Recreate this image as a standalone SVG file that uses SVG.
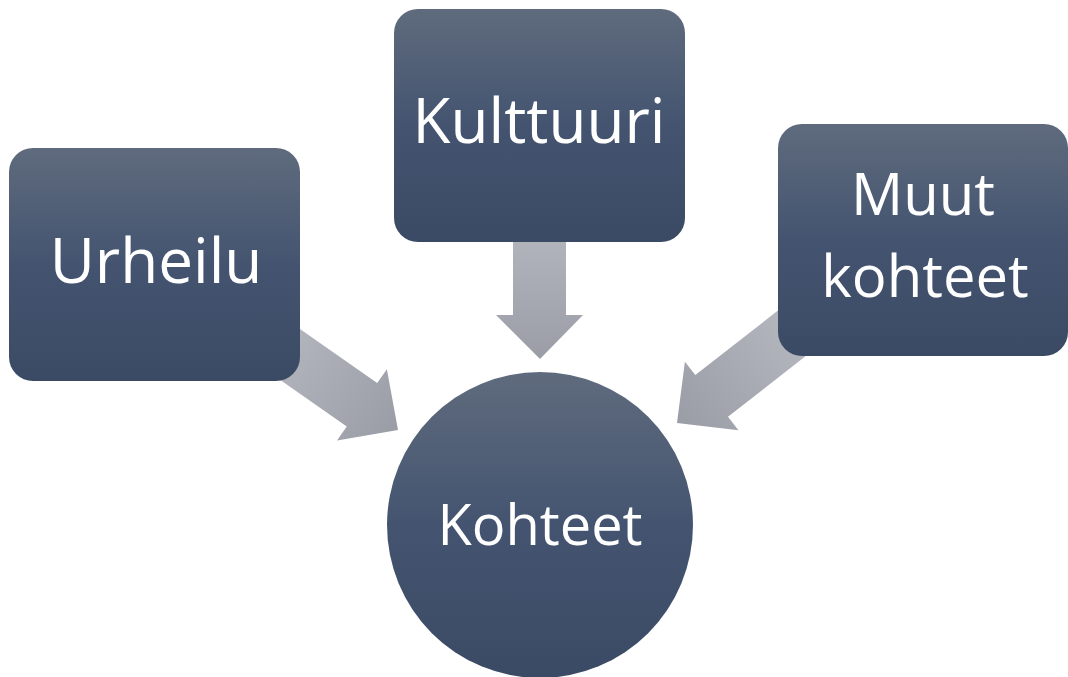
<svg xmlns="http://www.w3.org/2000/svg" width="1068" height="677" viewBox="0 0 1068 677">
<defs>
<linearGradient id="gNode" x1="0" y1="0" x2="0" y2="1">
<stop offset="0" stop-color="#5f6b7d"/>
<stop offset="0.5" stop-color="#445470"/>
<stop offset="1" stop-color="#3b4a64"/>
</linearGradient>
<linearGradient id="gArrow" x1="0" y1="0" x2="0" y2="1">
<stop offset="0" stop-color="#b3b6bd"/>
<stop offset="1" stop-color="#9a9da6"/>
</linearGradient>
<path id="arrowShape" d="M-26.5,-150 L26.5,-150 L26.5,-44 L43.5,-44 L0,0 L-43.5,-44 L-26.5,-44 Z"/>
</defs>
<style>
.node{fill:url(#gNode);}
.arrow{fill:url(#gArrow);}
.lbl{fill:#ffffff;font-family:"Open Sans","Liberation Sans",sans-serif;text-anchor:middle;}
.big{font-size:62px;}
.mid{font-size:58px;}
.sm{font-size:56px;}
</style>
<rect width="1068" height="677" fill="#ffffff"/>
<g id="connectors">
<path class="arrow" d="M513,230 L566,230 L566,315 L583,315 L540,359 L496,315 L513,315 Z"/>
<use href="#arrowShape" class="arrow" transform="translate(398,430) rotate(-55)"/>
<use href="#arrowShape" class="arrow" transform="translate(677,423) rotate(52)"/>
</g>
<g id="urheilu">
<rect class="node" x="9" y="148" width="291" height="233" rx="24"/>
<text class="lbl big" x="156" y="283">Urheilu</text>
</g>
<g id="kulttuuri">
<rect class="node" x="394" y="9" width="291" height="233" rx="24"/>
<text class="lbl big" x="539" y="143">Kulttuuri</text>
</g>
<g id="muut">
<rect class="node" x="778" y="124" width="290" height="232" rx="24"/>
<text class="lbl mid" x="923" y="215">Muut</text>
<text class="lbl mid" x="925" y="297">kohteet</text>
</g>
<g id="kohteet">
<circle class="node" cx="540" cy="525" r="153"/>
<text class="lbl sm" x="540" y="545">Kohteet</text>
</g>
</svg>
